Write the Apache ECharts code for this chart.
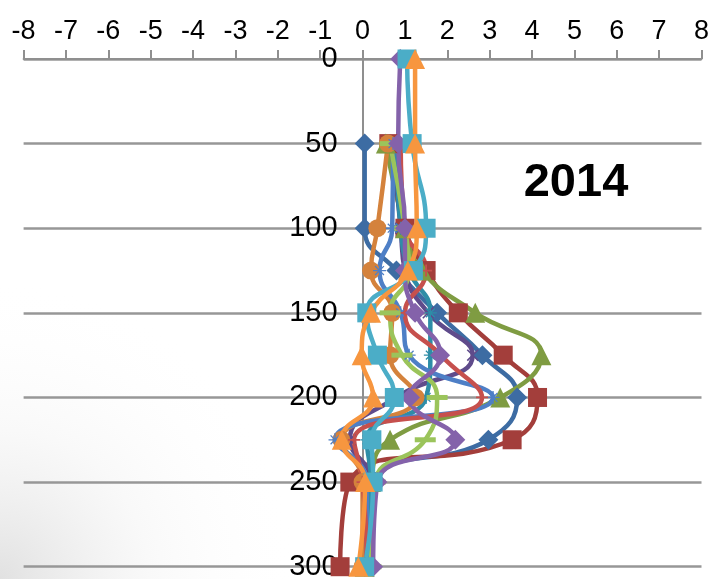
<!DOCTYPE html>
<html>
<head>
<meta charset="utf-8">
<script src="https://cdn.jsdelivr.net/npm/echarts@6/dist/echarts.min.js"></script>
<style>
html,body{margin:0;padding:0;background:#fff;}
#chart{width:712px;height:579px;}
</style>
</head>
<body>
<div id="chart"></div>
<script>
// Depths (y axis, inverted)
const depths = [0, 50, 100, 125, 150, 175, 200, 225, 250, 300];
// X axis tick range
const xTicks = [-8, -7, -6, -5, -4, -3, -2, -1, 0, 1, 2, 3, 4, 5, 6, 7, 8];
const chartTitle = '2014';

// Series values (x) at each depth (null = no reading at that depth)
const s1  = [null, 0.05, 0.05, 0.80, 1.76, 2.83, 3.65, 2.97, 0.30, 0.05];
const s2  = [null, 0.62, 1.00, 1.50, 2.26, 3.32, 4.13, 3.53, -0.30, -0.53];
const s3  = [null, 0.55, 1.00, 1.40, 2.66, 4.22, 3.25, 0.65, 0.20, 0.05];
const s4  = [null, 0.70, 0.90, 1.00, 1.55, 2.60, 0.80, -0.30, 0.20, 0.10];
const s5  = [null, 0.80, 0.90, 1.10, 1.60, 1.60, 1.50, 0.10, 0.20, 0.10];
const s6  = [null, 0.60, 0.35, 0.20, 0.70, 0.65, 1.25, -0.50, 0.00, 0.00];
const s7  = [null, 0.72, 0.70, 0.40, 0.90, 1.10, 3.08, -0.65, 0.10, 0.10];
const s8  = [null, 0.90, 1.00, 1.50, 1.00, 1.85, 2.82, -0.20, 0.00, 0.10];
const s9  = [null, 0.65, 1.00, 1.10, 0.65, 0.93, 1.76, 1.48, 0.30, 0.20];
const s10 = [0.89, 0.84, 1.00, 1.00, 1.24, 1.83, 1.12, 2.19, 0.35, 0.25];
const s11 = [1.05, 1.17, 1.50, 1.20, 0.10, 0.35, 0.75, 0.22, 0.25, 0.05];
const s12 = [1.24, 1.24, 1.28, 1.07, 0.20, -0.02, 0.25, -0.49, 0.06, -0.10];

const seriesValues = [s1, s2, s3, s4, s5, s6, s7, s8, s9, s10, s11, s12];

const colors = ['#3D6CA3', '#A33E3B', '#7F9C42', '#5F4B8B', '#2E8DA7', '#D4823C',
                '#4E7FC6', '#C6504D', '#9BC45B', '#8462AA', '#4BADC7', '#F7963F'];

const ASTER = 'path://M9,0h2v20h-2z M0,9h20v2H0z M2.5,3.9l1.4,-1.4l13.6,13.6l-1.4,1.4z M16.1,2.5l1.4,1.4l-13.6,13.6l-1.4,-1.4z';
const XMARK = 'path://M2.5,3.9l1.4,-1.4l13.6,13.6l-1.4,1.4z M16.1,2.5l1.4,1.4l-13.6,13.6l-1.4,-1.4z';
const PLUS = 'path://M8.5,0h3v20h-3z M0,8.5h20v3H0z';
const DASH = 'path://M0,0h20v4H0z';

const symbols = [
  ['diamond', 20], ['rect', 19], ['triangle', 20], [XMARK, 12], [ASTER, 13], ['circle', 18],
  [ASTER, 13], [PLUS, 12], [DASH, [21, 5]], ['diamond', 20], ['rect', 19], ['triangle', 20]
];

const series = seriesValues.map((vals, i) => ({
  type: 'line',
  name: 'S' + (i + 1),
  smooth: 0.5,
  data: vals.map((v, k) => [v, depths[k]]).filter(p => p[0] !== null),
  symbol: symbols[i][0],
  symbolSize: symbols[i][1],
  showAllSymbol: true,
  lineStyle: { color: colors[i], width: 4.5 },
  itemStyle: { color: colors[i], borderWidth: 0 },
  emphasis: { disabled: true },
  animation: false
}));

const GRID_LEFT = 23.6, GRID_RIGHT = 10.5;
const plotW = 712 - GRID_LEFT - GRID_RIGHT;
const zeroX = GRID_LEFT + plotW * (0 - xTicks[0]) / (xTicks[xTicks.length - 1] - xTicks[0]);

const chart = echarts.init(document.getElementById('chart'), null, { renderer: 'canvas' });
chart.setOption({
  animation: false,
  backgroundColor: '#ffffff',
  graphic: [
    {
      type: 'rect', z: -100, silent: true,
      shape: { x: 0, y: 280, width: 300, height: 299 },
      style: {
        fill: {
          type: 'radial', x: 0, y: 1, r: 1,
          colorStops: [
            { offset: 0, color: 'rgba(225,225,225,1)' },
            { offset: 0.5, color: 'rgba(245,245,245,0.6)' },
            { offset: 1, color: 'rgba(255,255,255,0)' }
          ]
        }
      }
    },
    {
      type: 'text', z: 100, silent: true,
      style: {
        text: chartTitle, x: 576, y: 183,
        align: 'center', verticalAlign: 'middle',
        textAlign: 'center', textVerticalAlign: 'middle',
        font: 'bold 47px "Liberation Sans", Arial, sans-serif',
        fill: '#000'
      }
    }
  ],
  grid: { left: GRID_LEFT, right: GRID_RIGHT, top: 59, bottom: 12.3, containLabel: false, outerBoundsMode: 'none' },
  xAxis: {
    type: 'value',
    position: 'top',
    min: xTicks[0],
    max: xTicks[xTicks.length - 1],
    interval: 1,
    axisLine: { show: true, onZero: false, lineStyle: { color: '#8f8f8f', width: 2 } },
    axisTick: { show: true, inside: false, length: 9, lineStyle: { color: '#8f8f8f', width: 2 } },
    axisLabel: {
      show: true, margin: 14, color: '#000',
      fontSize: 27, fontFamily: '"Liberation Sans", Arial, sans-serif'
    },
    splitLine: { show: false }
  },
  yAxis: {
    type: 'value',
    inverse: true,
    position: 'left',
    offset: -(zeroX - GRID_LEFT),
    min: depths[0],
    max: depths[depths.length - 1],
    interval: 50,
    axisLine: { show: true, onZero: false, lineStyle: { color: '#8f8f8f', width: 2 } },
    axisTick: { show: false },
    axisLabel: {
      show: true, margin: 25, color: '#000',
      fontSize: 29, fontFamily: '"Liberation Sans", Arial, sans-serif'
    },
    splitLine: { show: true, lineStyle: { color: '#979797', width: 2.5 } }
  },
  series: series
});
</script>
</body>
</html>
